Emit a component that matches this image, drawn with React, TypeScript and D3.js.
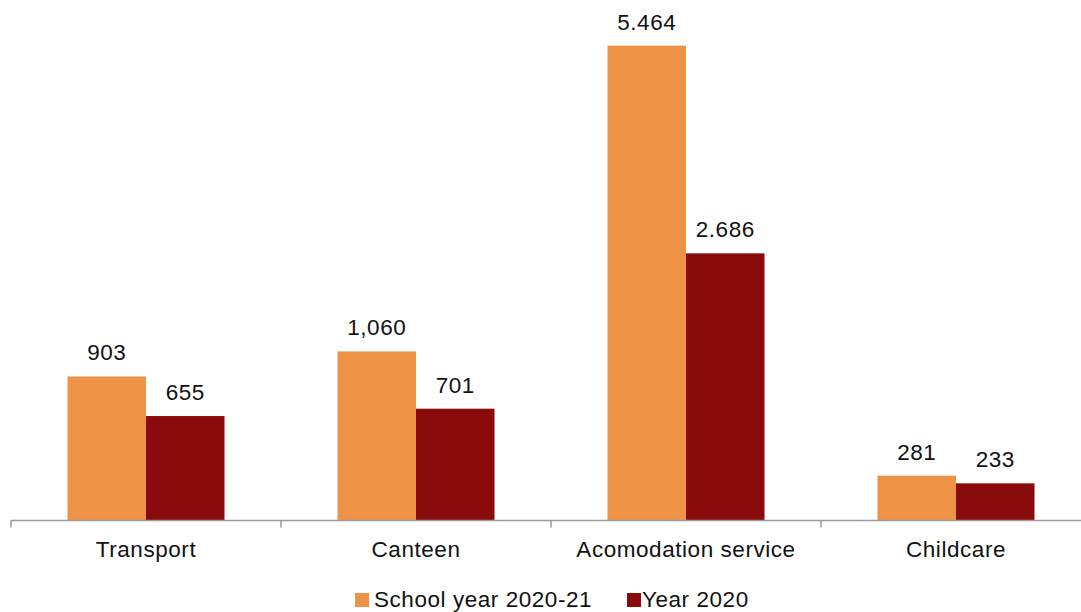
import React from "react";
import * as d3 from "d3";

const categories = ["Transport", "Canteen", "Acomodation service", "Childcare"];
const seriesNames = ["School year 2020-21", "Year 2020"];
const schoolYear = [903, 1060, 2977, 281];
const year2020 = [655, 701, 1675, 233];
const schoolYearLabels = ["903", "1,060", "5.464", "281"];
const year2020Labels = ["655", "701", "2.686", "233"];
const colors = ["#EE9248", "#8A0B0B"];

export default function App() {
  const W = 1081;
  const H = 612;
  const baseY = 520.5;
  const x = d3.scaleBand<string>().domain(categories).range([11, 1091]).paddingInner(0).paddingOuter(0);
  const y = d3.scaleLinear().domain([0, 3000]).range([baseY, 42]);
  const barW = 78.5;
  const font = "'Liberation Sans', Arial, sans-serif";
  const fs = 22.5;
  const ls = 0.55;
  const series = [
    { name: seriesNames[0], values: schoolYear, labels: schoolYearLabels, color: colors[0], offset: -barW },
    { name: seriesNames[1], values: year2020, labels: year2020Labels, color: colors[1], offset: 0 },
  ];
  const ticks = [...categories.map((c) => x(c)!), 1091];
  return (
    <svg width={W} height={H} style={{ position: "absolute", left: 0, top: 0, display: "block", background: "#fff" }}>
      {series.map((s) =>
        categories.map((c, i) => {
          const cx = x(c)! + x.bandwidth() / 2;
          const bx = cx + s.offset;
          const top = y(s.values[i]);
          return (
            <g key={s.name + c}>
              <rect x={bx} y={top} width={barW} height={baseY - top} fill={s.color} />
              <text x={bx + barW / 2} y={top - 16} textAnchor="middle" fontFamily={font} fontSize={fs} letterSpacing={ls} fill="#111">
                {s.labels[i]}
              </text>
            </g>
          );
        })
      )}
      <line x1={11} x2={1091} y1={baseY} y2={baseY} stroke="#9a9a9a" strokeWidth={1.5} />
      {ticks.map((t, i) => (
        <line key={i} x1={t} x2={t} y1={baseY} y2={baseY + 7} stroke="#9a9a9a" strokeWidth={1.5} />
      ))}
      {categories.map((c) => (
        <text key={c} x={x(c)! + x.bandwidth() / 2} y={557} textAnchor="middle" fontFamily={font} fontSize={fs} letterSpacing={ls} fill="#111">
          {c}
        </text>
      ))}
      <g>
        <rect x={355} y={593} width={14} height={14} fill={colors[0]} />
        <text x={374} y={607} fontFamily={font} fontSize={fs} letterSpacing={ls} fill="#111">{seriesNames[0]}</text>
        <rect x={627} y={593} width={14} height={14} fill={colors[1]} />
        <text x={642} y={607} fontFamily={font} fontSize={fs} letterSpacing={ls} fill="#111">{seriesNames[1]}</text>
      </g>
    </svg>
  );
}
